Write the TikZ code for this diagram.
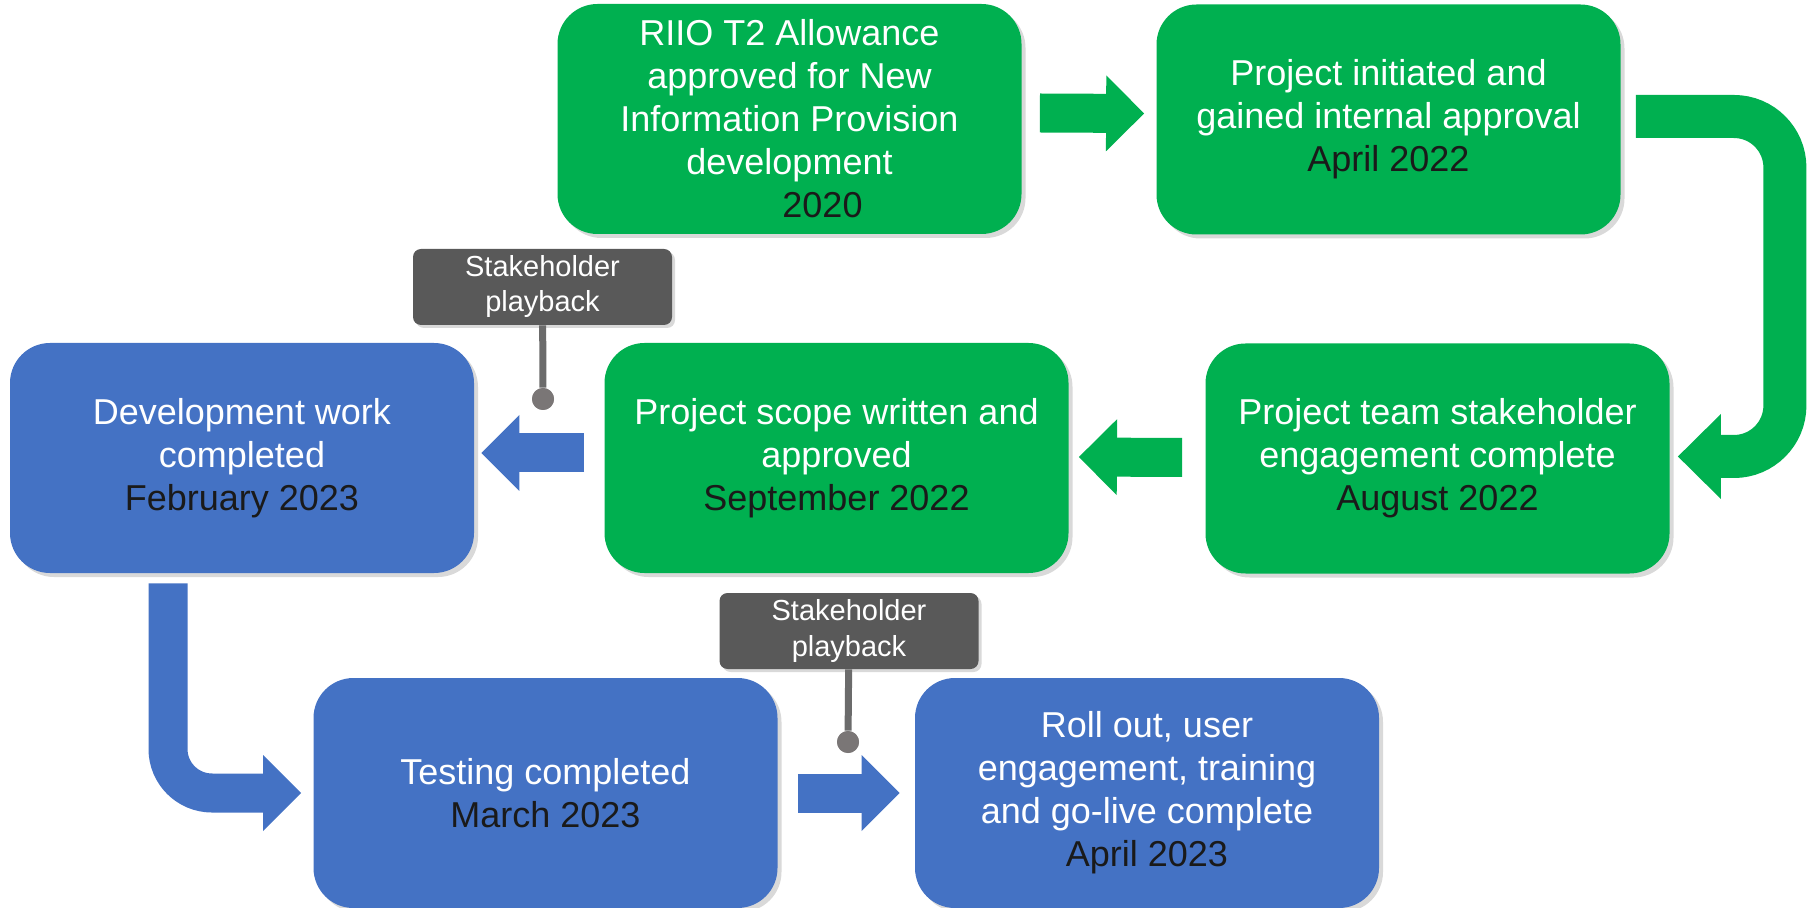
\documentclass[tikz,border=0pt]{standalone}
\usepackage{fontspec}
\setmainfont{Liberation Sans}
\usetikzlibrary{arrows.meta, positioning, shadows, calc}

\definecolor{stepgreen}{HTML}{00B050}
\definecolor{stepblue}{HTML}{4472C4}
\definecolor{taggray}{HTML}{595959}
\definecolor{pingray}{HTML}{6B6B6B}
\definecolor{dotgray}{HTML}{7A7676}
\definecolor{datecol}{HTML}{1A1A1A}
\newcommand{\stagedate}[1]{{\color{datecol}#1}}

\begin{document}
\begin{tikzpicture}[
  x=0.5pt, y=-0.5pt,
  stage/.style={rounded corners=20pt, minimum width=232pt, minimum height=115pt,
    inner sep=0pt, align=center, text=white, font=\fontsize{18}{21.5}\selectfont,
    drop shadow={shadow xshift=2pt, shadow yshift=-2pt, opacity=0.3}},
  gstage/.style={stage, fill=stepgreen},
  bstage/.style={stage, fill=stepblue},
  tag/.style={fill=taggray, rounded corners=4pt, minimum width=129.5pt, minimum height=38pt,
    inner sep=0pt, align=center, text=white, font=\fontsize{14.5}{17.5}\selectfont,
    drop shadow={shadow xshift=1.5pt, shadow yshift=-1.5pt, opacity=0.3}},
  pindot/.style={circle, fill=dotgray, minimum size=11pt, inner sep=0pt},
  pinline/.style={draw=pingray, line width=3.5pt},
  flow/.style={line width=19.5pt, -{Triangle[length=19pt, width=38pt, line width=0pt]}},
  gflow/.style={flow, draw=stepgreen},
  bflow/.style={flow, draw=stepblue},
]
\useasboundingbox (0,0) rectangle (1819,908);

% green stages
\node[gstage] (allow) at (789.5,119) {RIIO T2 Allowance\\approved for New\\Information Provision\\development\\\hspace*{33pt}\stagedate{2020}};
\node[gstage] (init) at (1388.5,119.5) {Project initiated and\\gained internal approval\\\stagedate{April 2022}};
\node[gstage] (engage) at (1437.5,458.5) {Project team stakeholder\\engagement complete\\\stagedate{August 2022}};
\node[gstage] (scope) at (836.5,458) {Project scope written and\\approved\\\stagedate{September 2022}};

% blue stages
\node[bstage] (devwork) at (242,458) {Development work\\completed\\\stagedate{February 2023}};
\node[bstage] (testing) at (545.5,793) {Testing completed\\\stagedate{March 2023}};
\node[bstage] (rollout) at (1147,793) {Roll out, user\\engagement, training\\and go-live complete\\\stagedate{April 2023}};

% playback tags
\node[tag] (play1) at (542.5,287) {Stakeholder\\playback};
\node[pindot] (pin1) at (543,399) {};
\draw[pinline] (play1) -- (pin1);
\node[pindot] at (pin1) {};
\node[tag] (play2) at (849,631) {Stakeholder\\playback};
\node[pindot] (pin2) at (848,742) {};
\draw[pinline] (play2) -- (pin2);
\node[pindot] at (pin2) {};

% flow arrows
\draw[gflow] ([xshift=9pt,yshift=3pt]allow.east) -- ([xshift=-6pt,yshift=3pt]init.west);
\draw[gflow, line width=21.5pt, rounded corners=25.5pt,
  -{Triangle[length=21.5pt, width=42.5pt, line width=0pt]}]
  ([xshift=7.5pt,yshift=1.5pt]init.east) -- ++(149,0) |- ([xshift=4pt,yshift=1pt]engage.east);
\draw[gflow] ([xshift=-11.5pt,yshift=0.5pt]engage.west) -- ([xshift=5pt,yshift=0.5pt]scope.east);
\draw[bflow] ([xshift=-10pt,yshift=2.5pt]scope.west) -- ([xshift=3.5pt,yshift=2.5pt]devwork.east);
\draw[bflow, rounded corners=22pt] ([xshift=-37pt,yshift=-5pt]devwork.south) |- ([xshift=-6pt]testing.west);
\draw[bflow] ([xshift=10pt]testing.east) -- ([xshift=-7.5pt]rollout.west);
\end{tikzpicture}
\end{document}
